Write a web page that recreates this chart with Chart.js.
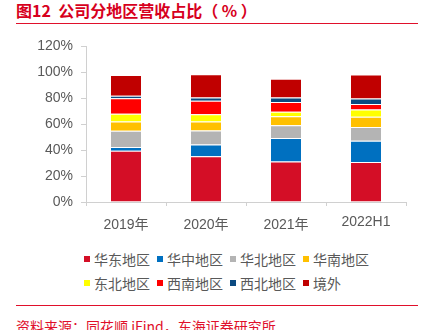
<!DOCTYPE html>
<html>
<head>
<meta charset="utf-8">
<script src="https://cdn.jsdelivr.net/npm/chart.js@4"></script>
<style>
  html, body { margin: 0; padding: 0; background: #fff; }
  body { width: 430px; height: 330px; position: relative; overflow: hidden;
    font-family: "Liberation Sans", "Noto Sans CJK SC", sans-serif; }
  .title { position: absolute; left: 16px; top: 0; line-height: 21px; font-size: 16px;
    font-weight: bold; color: #d7001d; font-family: "Noto Sans CJK SC", sans-serif; white-space: nowrap; }
  .rule { position: absolute; left: 16px; width: 402px; height: 1px; background: #e0102b; }
  #wrap { position: absolute; left: 0; top: 30px; width: 430px; height: 212px; }
  .legend { position: absolute; left: 84px; top: 249px; display: grid;
    grid-template-columns: 73px 73px 73px 73px; row-gap: 4px;
    font-family: "Noto Sans CJK SC", sans-serif; font-size: 14px; line-height: 20px; color: #595959; }
  .legend span { display: flex; align-items: center; white-space: nowrap; }
  .legend i { display: inline-block; width: 6px; height: 6px; margin-right: 4px; }
  .source { position: absolute; left: 16px; top: 318px; font-size: 14px; line-height: 16px;
    color: #e0102b; font-family: "Noto Sans CJK SC", sans-serif; white-space: nowrap; }
</style>
</head>
<body>
<div class="title">图12&nbsp; 公司分地区营收占比（ % ）</div>
<div class="rule" style="top:23px"></div>
<div id="wrap"><canvas id="c" width="430" height="212"></canvas></div>
<div class="legend" id="legend"></div>
<div class="rule" style="top:305px"></div>
<div class="source">资料来源：同花顺 iFind，东海证券研究所</div>
<script>
const years = ['2019年', '2020年', '2021年', '2022H1'];
const regions = ['华东地区', '华中地区', '华北地区', '华南地区', '东北地区', '西南地区', '西北地区', '境外'];
const huadong = [39.5, 35.3, 31.3, 30.8];
const huazhong = [3.0, 9.0, 18.0, 16.5];
const huabei = [12.5, 10.8, 9.8, 10.5];
const huanan = [7.0, 7.0, 7.0, 8.0];
const dongbei = [6.0, 5.5, 3.5, 5.5];
const xinan = [12.0, 10.5, 7.5, 4.3];
const xibei = [2.0, 2.5, 3.5, 4.3];
const jingwai = [16.0, 18.0, 14.5, 18.5];
const yTicks = [0, 20, 40, 60, 80, 100, 120];

const series = [huadong, huazhong, huabei, huanan, dongbei, xinan, xibei, jingwai];
const colors = ['#d40e26', '#0070c0', '#b4b4b4', '#ffc000', '#ffff00', '#ff0000', '#0b4a80', '#c00000'];

const legend = document.getElementById('legend');
regions.forEach((name, i) => {
	const item = document.createElement('span');
	item.innerHTML = '<i style="background:' + colors[i] + '"></i>' + name;
	legend.appendChild(item);
});

const axisColor = '#d0d0d0';
const tickFont = { family: '"Liberation Sans", "Noto Sans CJK SC", sans-serif', size: 14 };

new Chart(document.getElementById('c').getContext('2d'), {
	type: 'bar',
	data: {
		labels: years,
		datasets: series.map((data, i) => ({
			label: regions[i],
			data: data,
			backgroundColor: colors[i],
			borderColor: 'rgba(255,255,255,0.5)',
			borderWidth: 1,
			categoryPercentage: 0.8,
			barPercentage: 0.5
		}))
	},
	options: {
		responsive: false,
		devicePixelRatio: 1,
		animation: false,
		layout: { padding: { left: 0, right: 24, top: 12, bottom: 0 } },
		plugins: {
			legend: { display: false },
			tooltip: { enabled: false }
		},
		scales: {
			x: {
				stacked: true,
				grid: { drawOnChartArea: false, color: axisColor, tickLength: 4 },
				border: { color: axisColor },
				ticks: {
					color: '#595959',
					padding: 11,
					font: ctx => ctx.index === 3 ? { ...tickFont, lineHeight: 0.7 } : { ...tickFont, lineHeight: 1.2 }
				},
				afterFit: scale => { scale.height = 40; }
			},
			y: {
				stacked: true,
				min: 0,
				max: 120,
				afterBuildTicks: scale => { scale.ticks = yTicks.map(v => ({ value: v })); },
				grid: { drawOnChartArea: false, color: axisColor, tickLength: 5 },
				border: { color: axisColor },
				ticks: {
					color: '#595959',
					padding: 8,
					font: tickFont,
					callback: v => v + '%'
				},
				afterFit: scale => { scale.width = 86; }
			}
		}
	}
});
</script>
</body>
</html>
